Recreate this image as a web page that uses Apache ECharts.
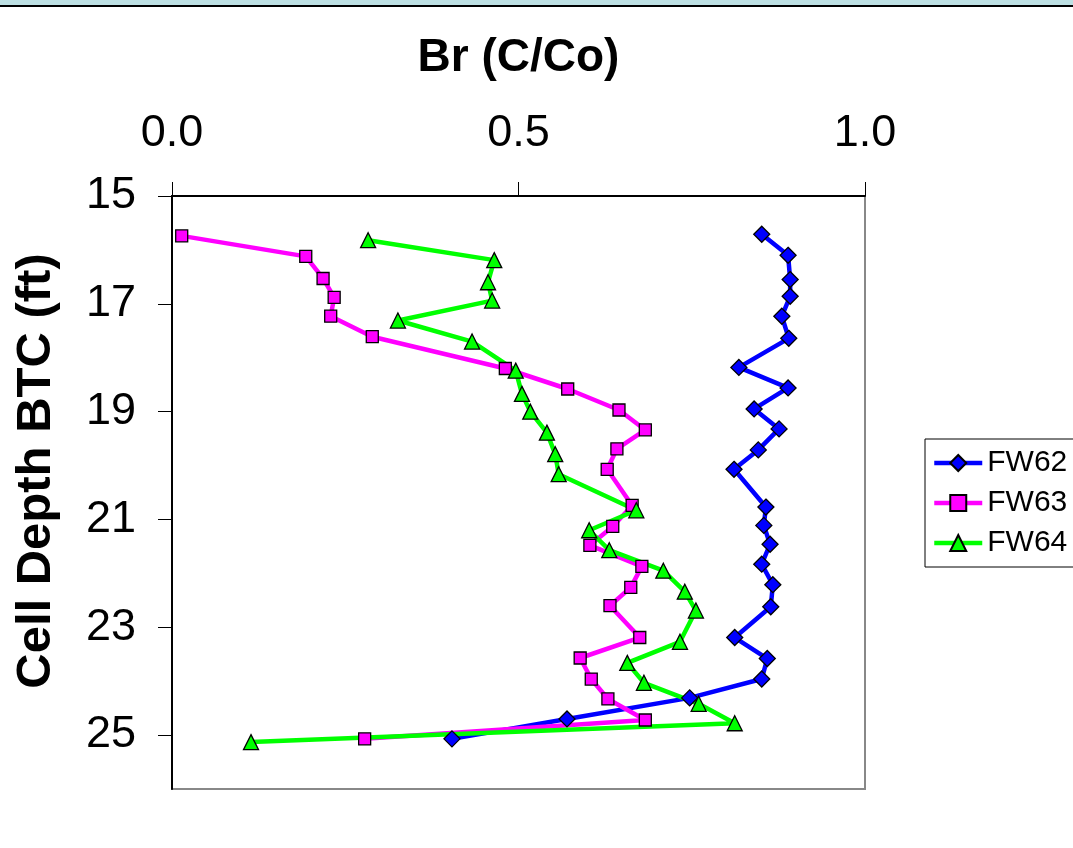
<!DOCTYPE html>
<html>
<head>
<meta charset="utf-8">
<script src="https://cdn.jsdelivr.net/npm/echarts@6/dist/echarts.min.js"></script>
<style>
html,body{margin:0;padding:0;background:#fff;}
#c{width:1073px;height:848px;}
</style>
</head>
<body>
<div id="c"></div>
<script>
const seriesNames = ['FW62', 'FW63', 'FW64'];
const xTicks = [0.0, 0.5, 1.0];
const yTicks = [15, 17, 19, 21, 23, 25];

const depthFW62 = [15.71, 16.10, 16.55, 16.86, 17.23, 17.64, 18.18, 18.56, 18.95, 19.32, 19.71, 20.07, 20.77, 21.11, 21.46, 21.83, 22.21, 22.62, 23.19, 23.58, 23.96, 24.31, 24.70, 25.07];
const ccoFW62  = [0.851, 0.889, 0.892, 0.892, 0.880, 0.890, 0.818, 0.889, 0.840, 0.876, 0.846, 0.811, 0.857, 0.854, 0.863, 0.851, 0.867, 0.864, 0.812, 0.859, 0.851, 0.747, 0.570, 0.404];

const depthFW63 = [15.74, 16.12, 16.53, 16.88, 17.23, 17.61, 18.20, 18.58, 18.97, 19.34, 19.69, 20.07, 20.74, 21.13, 21.48, 21.87, 22.26, 22.60, 23.19, 23.57, 23.96, 24.33, 24.72, 25.07];
const ccoFW63  = [0.014, 0.193, 0.218, 0.234, 0.229, 0.289, 0.481, 0.571, 0.645, 0.683, 0.642, 0.628, 0.664, 0.636, 0.603, 0.678, 0.662, 0.632, 0.675, 0.589, 0.605, 0.629, 0.683, 0.278];

const depthFW64 = [15.82, 16.19, 16.60, 16.94, 17.31, 17.70, 18.24, 18.67, 19.00, 19.39, 19.79, 20.16, 20.83, 21.20, 21.57, 21.95, 22.34, 22.69, 23.27, 23.66, 24.03, 24.42, 24.78, 25.13];
const ccoFW64  = [0.283, 0.465, 0.456, 0.462, 0.326, 0.433, 0.496, 0.505, 0.517, 0.541, 0.553, 0.558, 0.670, 0.602, 0.631, 0.709, 0.740, 0.756, 0.733, 0.657, 0.681, 0.760, 0.812, 0.114];

const FONT = "'Liberation Sans', Arial, sans-serif";
function pairs(xs, ys) { return xs.map((v, i) => [v, ys[i]]); }

const chart = echarts.init(document.getElementById('c'), null, {renderer: 'canvas'});

function mkSeries(name, xs, ys, color, symbol, size) {
  return {
    name: name,
    type: 'line',
    data: pairs(xs, ys),
    symbol: symbol,
    symbolSize: size,
    showAllSymbol: true,
    lineStyle: {color: color, width: 4.5},
    itemStyle: {color: color, borderColor: '#000', borderWidth: 1.3},
    emphasis: {disabled: true},
    animation: false
  };
}

chart.setOption({
  backgroundColor: '#fff',
  animation: false,
  graphic: [
    {type: 'rect', shape: {x: 0, y: 0, width: 1073, height: 5}, style: {fill: '#bde0e3'}, silent: true},
    {type: 'rect', shape: {x: 0, y: 5, width: 1073, height: 2}, style: {fill: '#000'}, silent: true},
    {type: 'text', x: 36, y: 471, rotation: Math.PI / 2,
     style: {text: 'Cell Depth BTC (ft)', font: "bold 49px " + FONT, fill: '#000', align: 'center', verticalAlign: 'middle'}}
  ],
  grid: {
    left: 172, right: 208, top: 196, bottom: 59,
    show: true, borderColor: '#888', borderWidth: 2, backgroundColor: '#fff'
  },
  legend: {
    data: seriesNames,
    orient: 'vertical',
    left: 925, top: 439,
    padding: [9, 8, 9, 7],
    itemWidth: 48, itemHeight: 20,
    itemGap: 10,
    borderColor: '#000', borderWidth: 1,
    lineStyle: {width: 4.5},
    textStyle: {fontFamily: FONT, fontSize: 30, color: '#000', lineHeight: 30},
    selectedMode: false
  },
  xAxis: {
    type: 'value', position: 'top',
    min: 0, max: 1, interval: 0.5,
    name: 'Br (C/Co)', nameLocation: 'middle', nameGap: 115,
    nameTextStyle: {fontFamily: FONT, fontSize: 46, fontWeight: 'bold', color: '#000'},
    axisLine: {show: true, lineStyle: {color: '#000', width: 2}},
    axisTick: {show: true, inside: false, length: 14, lineStyle: {color: '#000', width: 1}},
    axisLabel: {fontFamily: FONT, fontSize: 45, color: '#000', margin: 40,
      formatter: v => xTicks.includes(v) ? v.toFixed(1) : ''},
    splitLine: {show: false}
  },
  yAxis: {
    type: 'value', inverse: true,
    min: 15, max: 26, interval: 2,
    axisLine: {show: true, lineStyle: {color: '#000', width: 2}},
    axisTick: {show: true, inside: false, length: 14, customValues: yTicks, lineStyle: {color: '#000', width: 1}},
    axisLabel: {fontFamily: FONT, fontSize: 45, color: '#000', margin: 36, customValues: yTicks,
      formatter: v => yTicks.includes(v) ? String(v) : ''},
    splitLine: {show: false}
  },
  series: [
    mkSeries('FW62', ccoFW62, depthFW62, '#0000ff', 'diamond', 16),
    mkSeries('FW63', ccoFW63, depthFW63, '#ff00ff', 'rect', 12),
    mkSeries('FW64', ccoFW64, depthFW64, '#00ff00', 'triangle', 15)
  ]
});
</script>
</body>
</html>
